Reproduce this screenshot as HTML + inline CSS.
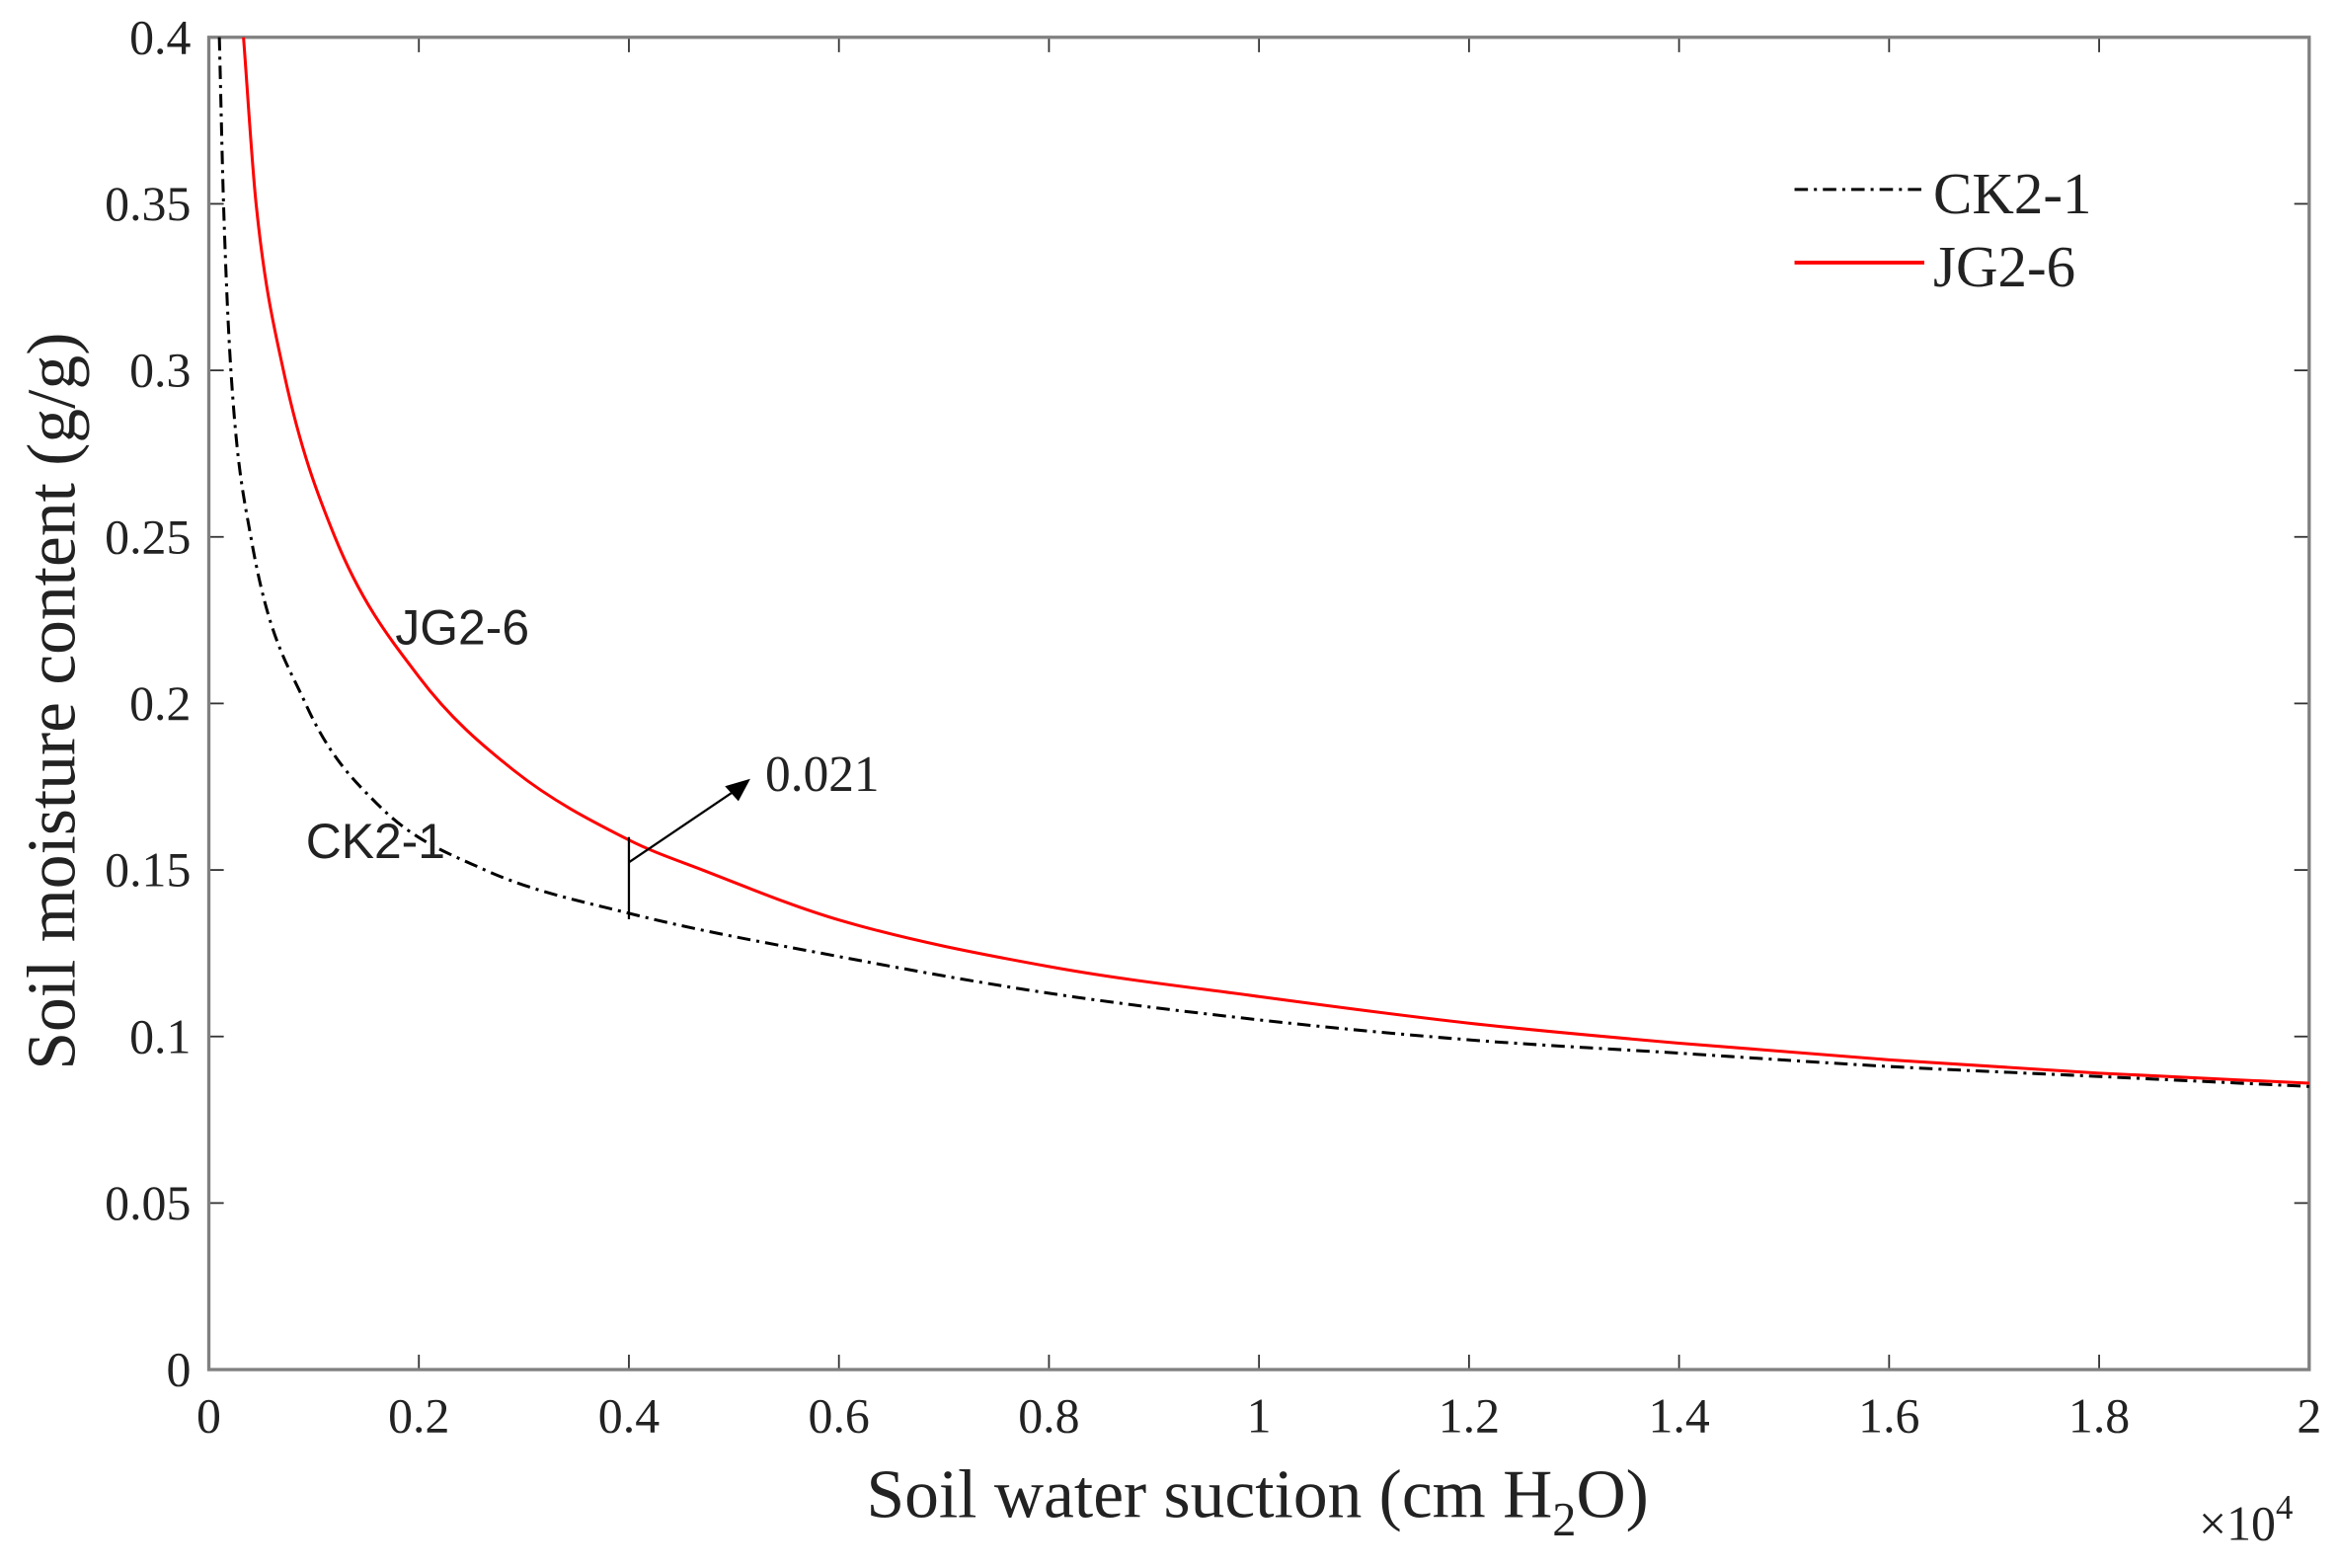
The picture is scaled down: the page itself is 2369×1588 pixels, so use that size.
<!DOCTYPE html>
<html><head><meta charset="utf-8"><style>
html,body{margin:0;padding:0;background:#fff}
svg{display:block}
text{font-family:"Liberation Serif",serif;fill:#222}
.sans{font-family:"Liberation Sans",sans-serif}
</style></head><body>
<svg id="chart" width="2369" height="1588" viewBox="0 0 1568 1051" preserveAspectRatio="none" xmlns="http://www.w3.org/2000/svg">
<g id="axes"></g>
<g id="series"></g>
<g id="annot"></g>
</svg>
<script>
const xTicks = [0,0.2,0.4,0.6,0.8,1,1.2,1.4,1.6,1.8,2];
const xTickLabels = ["0","0.2","0.4","0.6","0.8","1","1.2","1.4","1.6","1.8","2"];
const yTicks = [0,0.05,0.1,0.15,0.2,0.25,0.3,0.35,0.4];
const yTickLabels = ["0","0.05","0.1","0.15","0.2","0.25","0.3","0.35","0.4"];
const ckX = [0.01,0.014,0.021,0.04,0.092,0.163,0.263,0.4,0.6,0.8,1.0,1.2,1.4,1.6,1.8,2.0];
const ckY = [0.4,0.35,0.3,0.25,0.2,0.169,0.15,0.137,0.124,0.113,0.105,0.099,0.095,0.091,0.088,0.085];
const jgX = [0.033,0.045,0.071,0.12,0.2,0.29,0.4,0.47,0.6,0.8,1.0,1.2,1.4,1.6,1.8,2.0];
const jgY = [0.4,0.35,0.3,0.25,0.208,0.18,0.159,0.15,0.135,0.121,0.112,0.104,0.098,0.093,0.089,0.086];
const diffX = 0.4, diffLabel = "0.021";

const NS="http://www.w3.org/2000/svg";
const X0=140,X1=1548,Y0=25,Y1=918;
const sx=v=>X0+(v-0)/(2-0)*(X1-X0);
const sy=v=>Y1-(v-0)/(0.4-0)*(Y1-Y0);
function mk(tag,attrs,parent,txt){const e=document.createElementNS(NS,tag);for(const k in attrs)e.setAttribute(k,attrs[k]);if(txt!==undefined)e.textContent=txt;parent.appendChild(e);return e;}
const axes=document.getElementById('axes'),series=document.getElementById('series'),annot=document.getElementById('annot');

xTicks.forEach((t,i)=>{
  const x=sx(t);
  const a=mk('line',{x1:x,y1:Y1,x2:x,y2:Y1-10,stroke:'#333','stroke-width':1.2},axes);
  
  
  const b=mk('line',{x1:x,y1:Y0,x2:x,y2:Y0+10,stroke:'#333','stroke-width':1.2},axes);
  
  
  const l=mk('text',{x:x,y:960,'font-size':33,'text-anchor':'middle'},axes,xTickLabels[i]);
  
  
});
yTicks.forEach((t,i)=>{
  const y=sy(t);
  const a=mk('line',{x1:X0,y1:y,x2:X0+10,y2:y,stroke:'#333','stroke-width':1.2},axes);
  
  
  const b=mk('line',{x1:X1,y1:y,x2:X1-10,y2:y,stroke:'#333','stroke-width':1.2},axes);
  
  
  const l=mk('text',{x:128,y:y+11,'font-size':33,'text-anchor':'end'},axes,yTickLabels[i]);
  
  
});
const frame=mk('rect',{x:X0,y:Y0,width:X1-X0,height:Y1-Y0,fill:'none',stroke:'#808080','stroke-width':2.2},axes);



function smooth(xs,ys){
  const p=xs.map((x,i)=>[sx(x),sy(ys[i])]);
  const n=p.length,d=[],m=[];
  for(let i=0;i<n-1;i++)d.push((p[i+1][1]-p[i][1])/(p[i+1][0]-p[i][0]));
  m[0]=d[0];m[n-1]=d[n-2];
  for(let i=1;i<n-1;i++)m[i]=(d[i-1]*d[i]<=0)?0:(d[i-1]+d[i])/2;
  for(let i=0;i<n-1;i++){
    if(d[i]===0){m[i]=m[i+1]=0;continue;}
    const a=m[i]/d[i],b=m[i+1]/d[i],s=a*a+b*b;
    if(s>9){const t=3/Math.sqrt(s);m[i]=t*a*d[i];m[i+1]=t*b*d[i];}
  }
  let path=`M${p[0][0]},${p[0][1]}`;
  for(let i=0;i<n-1;i++){
    const h=(p[i+1][0]-p[i][0])/3;
    path+=` C${p[i][0]+h},${p[i][1]+m[i]*h} ${p[i+1][0]-h},${p[i+1][1]-m[i+1]*h} ${p[i+1][0]},${p[i+1][1]}`;
  }
  return path;
}
const ck=mk('path',{d:smooth(ckX,ckY),fill:'none',stroke:'#000','stroke-width':2,'stroke-dasharray':'9 4 2 4'},series);


const jg=mk('path',{d:smooth(jgX,jgY),fill:'none',stroke:'#ff0000','stroke-width':2},series);



const ckAt=ckY[ckX.indexOf(diffX)], jgAt=jgY[jgX.indexOf(diffX)];
const dl=mk('line',{x1:sx(diffX),y1:sy(ckAt)+4,x2:sx(diffX),y2:sy(jgAt)-2,stroke:'#000','stroke-width':1.5},annot);


const ax1=sx(diffX),ay1=sy(jgAt)+15,ax2=503,ay2=522;
const al=mk('line',{x1:ax1,y1:ay1,x2:ax2-6,y2:ay2+5,stroke:'#000','stroke-width':1.5},annot);


const ah=mk('polygon',{points:`${ax2},${ay2} ${ax2-17},${ay2+5} ${ax2-8},${ay2+15}`,fill:'#000'},annot);


const dt=mk('text',{x:513,y:530,'font-size':34},annot,diffLabel);


const jl=mk('text',{x:265,y:432,'font-size':33,class:'sans'},annot,'JG2-6');


const cl=mk('text',{x:205,y:575,'font-size':33,class:'sans'},annot,'CK2-1');



const lg1=mk('line',{x1:1203,y1:127,x2:1290,y2:127,stroke:'#000','stroke-width':2,'stroke-dasharray':'9 4 2 4'},annot);


const lt1=mk('text',{x:1296,y:143,'font-size':39},annot,'CK2-1');


const lg2=mk('line',{x1:1203,y1:176,x2:1290,y2:176,stroke:'#ff0000','stroke-width':2.5},annot);


const lt2=mk('text',{x:1296,y:192,'font-size':39},annot,'JG2-6');



const xt=mk('text',{x:843,y:1017,'font-size':46,'text-anchor':'middle'},axes);


xt.innerHTML='Soil water suction (cm H<tspan font-size="32" dy="12">2</tspan><tspan dy="-12">O)</tspan>';
const ex=mk('text',{x:1474,y:1032,'font-size':33},axes);


ex.innerHTML='×10<tspan font-size="23" dy="-14">4</tspan>';
const yt=mk('text',{x:0,y:0,'font-size':46,'text-anchor':'middle',transform:'translate(50,470) rotate(-90)'},axes,'Soil moisture content (g/g)');


</script>
</body></html>
